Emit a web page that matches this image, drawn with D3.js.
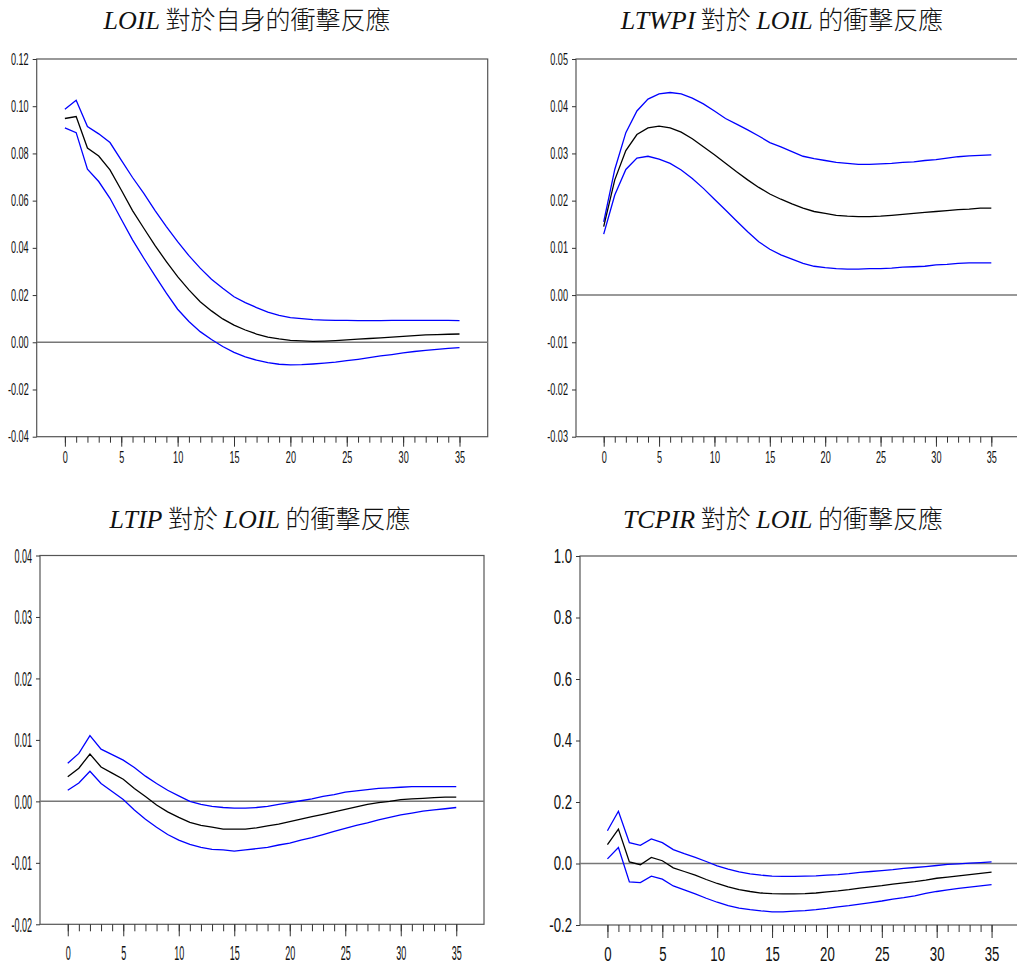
<!DOCTYPE html>
<html>
<head>
<meta charset="utf-8">
<script src="https://cdn.jsdelivr.net/npm/d3@7"></script>
<style>
  body { margin: 0; background: #fff; }
  svg { display: block; }
</style>
</head>
<body>
<div id="chart"></div>
<script>
// horizon (periods after the shock)
var periods = [0,1,2,3,4,5,6,7,8,9,10,11,12,13,14,15,16,17,18,19,20,21,22,23,24,25,26,27,28,29,30,31,32,33,34,35];
var xLabelTicks = [0,5,10,15,20,25,30,35];

// LOIL response to its own shock
var loilMid = [0.0948,0.0956,0.0823,0.0789,0.0730,0.0645,0.0558,0.0483,0.0409,0.0342,0.0278,0.0222,0.0172,0.0133,0.0099,0.0073,0.0052,0.0035,0.0022,0.0014,0.0008,0.0006,0.0004,0.0005,0.0007,0.0010,0.0013,0.0016,0.0019,0.0022,0.0025,0.0028,0.0031,0.0032,0.0034,0.0035];
var loilUpper = [0.0987,0.1025,0.0914,0.0883,0.0846,0.0772,0.0698,0.0631,0.0558,0.0490,0.0426,0.0367,0.0314,0.0267,0.0229,0.0193,0.0168,0.0147,0.0128,0.0114,0.0104,0.0100,0.0096,0.0094,0.0093,0.0093,0.0092,0.0092,0.0092,0.0093,0.0093,0.0093,0.0093,0.0093,0.0093,0.0092];
var loilLower = [0.0908,0.0888,0.0733,0.0681,0.0610,0.0521,0.0434,0.0356,0.0281,0.0208,0.0140,0.0088,0.0045,0.0012,-0.0018,-0.0043,-0.0062,-0.0076,-0.0086,-0.0093,-0.0096,-0.0095,-0.0092,-0.0088,-0.0084,-0.0078,-0.0072,-0.0065,-0.0058,-0.0052,-0.0045,-0.0039,-0.0034,-0.0030,-0.0026,-0.0023];
var loilYTicks = [-0.04,-0.02,0.00,0.02,0.04,0.06,0.08,0.10,0.12];

// LTWPI response to LOIL
var ltwpiMid = [0.0145,0.0244,0.0306,0.0340,0.0354,0.0358,0.0354,0.0345,0.0331,0.0314,0.0297,0.0279,0.0261,0.0244,0.0228,0.0214,0.0203,0.0193,0.0184,0.0177,0.0173,0.0169,0.0167,0.0166,0.0166,0.0167,0.0169,0.0171,0.0173,0.0175,0.0177,0.0179,0.0181,0.0182,0.0184,0.0184];
var ltwpiUpper = [0.0155,0.0266,0.0344,0.0390,0.0415,0.0426,0.0429,0.0426,0.0417,0.0405,0.0390,0.0374,0.0362,0.0350,0.0337,0.0323,0.0314,0.0304,0.0294,0.0289,0.0285,0.0281,0.0279,0.0277,0.0277,0.0278,0.0279,0.0281,0.0282,0.0285,0.0287,0.0290,0.0293,0.0295,0.0296,0.0297];
var ltwpiLower = [0.0129,0.0212,0.0266,0.0290,0.0294,0.0288,0.0279,0.0265,0.0247,0.0226,0.0203,0.0180,0.0157,0.0134,0.0113,0.0097,0.0085,0.0076,0.0067,0.0061,0.0058,0.0056,0.0055,0.0055,0.0056,0.0056,0.0057,0.0059,0.0060,0.0061,0.0064,0.0065,0.0067,0.0068,0.0068,0.0068];
var ltwpiYTicks = [-0.03,-0.02,-0.01,0.00,0.01,0.02,0.03,0.04,0.05];

// LTIP response to LOIL
var ltipMid = [0.0040,0.0054,0.0077,0.0056,0.0046,0.0036,0.0021,0.0008,-0.0006,-0.0017,-0.0026,-0.0034,-0.0039,-0.0042,-0.0045,-0.0045,-0.0045,-0.0043,-0.0040,-0.0037,-0.0033,-0.0029,-0.0025,-0.0021,-0.0017,-0.0013,-0.0009,-0.0005,-0.0002,0.0000,0.0003,0.0004,0.0005,0.0006,0.0007,0.0007];
var ltipUpper = [0.0062,0.0078,0.0107,0.0085,0.0076,0.0067,0.0055,0.0041,0.0029,0.0018,0.0009,0.0000,-0.0005,-0.0008,-0.0010,-0.0011,-0.0011,-0.0010,-0.0008,-0.0005,-0.0002,0.0001,0.0004,0.0008,0.0011,0.0015,0.0017,0.0019,0.0021,0.0022,0.0023,0.0024,0.0024,0.0024,0.0024,0.0024];
var ltipLower = [0.0018,0.0030,0.0049,0.0029,0.0016,0.0003,-0.0014,-0.0029,-0.0042,-0.0054,-0.0063,-0.0070,-0.0075,-0.0078,-0.0079,-0.0081,-0.0079,-0.0077,-0.0075,-0.0071,-0.0068,-0.0063,-0.0059,-0.0054,-0.0049,-0.0044,-0.0039,-0.0035,-0.0030,-0.0026,-0.0022,-0.0019,-0.0016,-0.0014,-0.0012,-0.0010];
var ltipYTicks = [-0.02,-0.01,0.00,0.01,0.02,0.03,0.04];

// TCPIR response to LOIL
var tcpirMid = [0.061,0.112,0.005,-0.004,0.020,0.009,-0.014,-0.026,-0.038,-0.052,-0.065,-0.076,-0.085,-0.091,-0.096,-0.098,-0.099,-0.099,-0.098,-0.096,-0.092,-0.089,-0.085,-0.080,-0.076,-0.072,-0.067,-0.063,-0.059,-0.054,-0.048,-0.044,-0.040,-0.036,-0.032,-0.028];
var tcpirUpper = [0.1065,0.170,0.068,0.059,0.080,0.068,0.045,0.032,0.020,0.0065,-0.008,-0.018,-0.027,-0.034,-0.038,-0.041,-0.042,-0.042,-0.041,-0.040,-0.038,-0.036,-0.033,-0.029,-0.026,-0.023,-0.020,-0.016,-0.013,-0.010,-0.0065,-0.003,-0.001,0.001,0.003,0.005];
var tcpirLower = [0.015,0.052,-0.060,-0.062,-0.041,-0.051,-0.073,-0.086,-0.099,-0.113,-0.126,-0.137,-0.145,-0.150,-0.154,-0.157,-0.157,-0.155,-0.153,-0.150,-0.146,-0.141,-0.137,-0.132,-0.127,-0.122,-0.116,-0.111,-0.105,-0.097,-0.091,-0.086,-0.081,-0.077,-0.073,-0.069];
var tcpirYTicks = [-0.2,0.0,0.2,0.4,0.6,0.8,1.0];

var width = 1017, height = 966;

var svg = d3
  .select("#chart")
  .append("svg")
  .attr("width", width)
  .attr("height", height);

var panels = [
  { title: [["LOIL", true], [" 對於自身的衝擊反應", false]], tx: 247, ty: 29,
    left: 36.7, top: 59, right: 487.7, bottom: 436.7,
    yDomain: [-0.04, 0.12], yTicks: loilYTicks, dec: 2,
    fs: 16, sx: 0.57, xTick: [6, 10], xPad: 5,
    mid: loilMid, upper: loilUpper, lower: loilLower },
  { title: [["LTWPI", true], [" 對於 ", false], ["LOIL", true], [" 的衝擊反應", false]], tx: 782, ty: 29,
    left: 576, top: 59, right: 1019, bottom: 436.7,
    yDomain: [-0.03, 0.05], yTicks: ltwpiYTicks, dec: 2,
    fs: 16, sx: 0.57, xTick: [6, 10], xPad: 5,
    mid: ltwpiMid, upper: ltwpiUpper, lower: ltwpiLower },
  { title: [["LTIP", true], [" 對於 ", false], ["LOIL", true], [" 的衝擊反應", false]], tx: 260, ty: 528,
    left: 40, top: 555.5, right: 484, bottom: 924.3,
    yDomain: [-0.02, 0.04], yTicks: ltipYTicks, dec: 2,
    fs: 21, sx: 0.43, xTick: [7, 12], xPad: 8.5,
    mid: ltipMid, upper: ltipUpper, lower: ltipLower },
  { title: [["TCPIR", true], [" 對於 ", false], ["LOIL", true], [" 的衝擊反應", false]], tx: 783, ty: 528,
    left: 580, top: 556, right: 1019, bottom: 925,
    yDomain: [-0.2, 1.0], yTicks: tcpirYTicks, dec: 1,
    fs: 20, sx: 0.66, xTick: [7, 13], xPad: 8.5,
    mid: tcpirMid, upper: tcpirUpper, lower: tcpirLower }
];

function squeeze(sel, p) {
  sel.selectAll(".tick text")
    .style("font-family", "'Liberation Sans', Arial, sans-serif")
    .style("font-size", p.fs + "px")
    .attr("fill", "#111")
    .each(function() {
      var t = d3.select(this);
      var x = +t.attr("x") || 0;
      t.attr("x", x / p.sx).attr("transform", "scale(" + p.sx + ",1)");
    });
}

panels.forEach(function(p) {
  // title: latin in italic serif, chinese in CJK font
  var title = svg
    .append("text")
    .attr("x", p.tx)
    .attr("y", p.ty)
    .attr("text-anchor", "middle")
    .attr("fill", "#111");
  p.title.forEach(function(part) {
    title
      .append("tspan")
      .text(part[0])
      .style("font-size", part[1] ? "26px" : "25px")
      .style("font-family", part[1] ? "'Liberation Serif', 'Times New Roman', serif" : "'Noto Sans CJK TC', 'Noto Sans CJK SC', sans-serif")
      .style("font-style", part[1] ? "italic" : "normal")
      .style("font-weight", part[1] ? "normal" : "300");
  });

  var xScale = d3.scaleLinear().domain([-2.5, 37.5]).range([p.left, p.right]);
  var yScale = d3.scaleLinear().domain(p.yDomain).range([p.bottom, p.top]);

  // frame
  svg
    .append("rect")
    .attr("x", p.left)
    .attr("y", p.top)
    .attr("width", p.right - p.left)
    .attr("height", p.bottom - p.top)
    .attr("fill", "none")
    .attr("stroke", "#555")
    .attr("stroke-width", 1.2);

  // zero line
  svg
    .append("line")
    .attr("x1", p.left)
    .attr("x2", p.right)
    .attr("y1", yScale(0))
    .attr("y2", yScale(0))
    .attr("stroke", "#777")
    .attr("stroke-width", 1.5);

  // y axis
  var yAxis = d3.axisLeft(yScale)
    .tickValues(p.yTicks)
    .tickSize(4)
    .tickPadding(4)
    .tickFormat(function(d) { return d.toFixed(p.dec); });
  var gy = svg
    .append("g")
    .attr("class", "y-axis")
    .attr("transform", "translate(" + p.left + ",0)")
    .call(yAxis);
  gy.select(".domain").remove();
  gy.selectAll(".tick line").attr("stroke", "#333");
  squeeze(gy, p);

  // x axis: minor ticks every period, labelled every 5
  var gMinor = svg
    .append("g")
    .attr("transform", "translate(0," + p.bottom + ")")
    .call(d3.axisBottom(xScale).tickValues(periods).tickSize(p.xTick[0]).tickFormat(""));
  gMinor.select(".domain").remove();
  gMinor.selectAll(".tick line").attr("stroke", "#333");

  var gx = svg
    .append("g")
    .attr("class", "x-axis")
    .attr("transform", "translate(0," + p.bottom + ")")
    .call(d3.axisBottom(xScale).tickValues(xLabelTicks).tickSize(p.xTick[1]).tickPadding(p.xPad));
  gx.select(".domain").remove();
  gx.selectAll(".tick line").attr("stroke", "#333");
  squeeze(gx, p);

  // response lines
  var line = d3.line()
    .x(function(d, i) { return xScale(periods[i]); })
    .y(function(d) { return yScale(d); });

  [[p.upper, "#0000ff"], [p.lower, "#0000ff"], [p.mid, "#000"]].forEach(function(s) {
    svg
      .append("path")
      .datum(s[0])
      .attr("d", line)
      .attr("fill", "none")
      .attr("stroke", s[1])
      .attr("stroke-width", 1.3);
  });
});
</script>
</body>
</html>
